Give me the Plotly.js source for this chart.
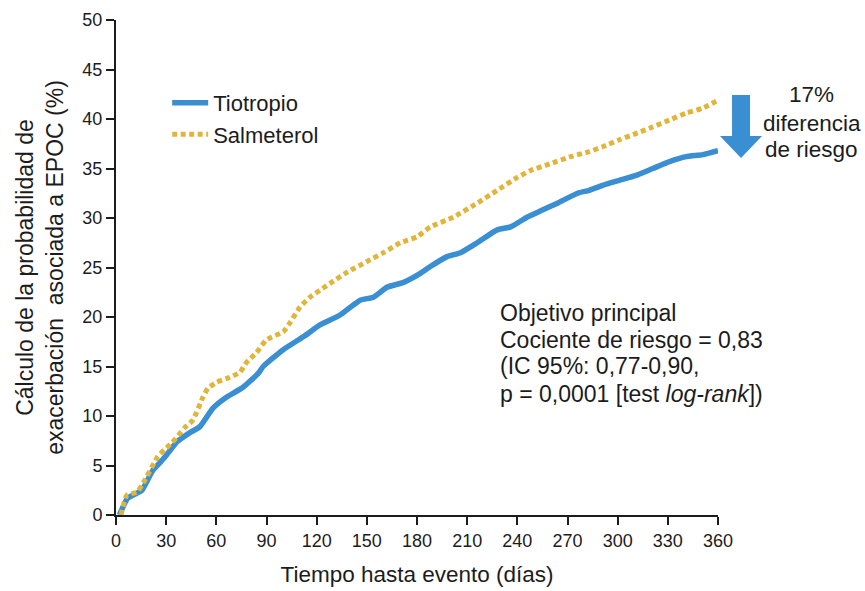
<!DOCTYPE html>
<html>
<head>
<meta charset="utf-8">
<script src="https://cdn.plot.ly/plotly-3.0.1.min.js"></script>
<style>html,body{margin:0;padding:0;background:#fff;}#chart{width:865px;height:591px;}</style>
</head>
<body>
<div id="chart"></div>
<script>
const tioDays = [2, 7, 12.5, 15.5, 22, 29, 36.5, 44, 50, 58, 66, 76, 85, 88, 100, 112, 122, 134, 146, 154, 162, 172, 182, 188, 198, 206, 216, 228, 236, 246, 255, 264, 276, 283, 291, 301, 311, 321, 331, 341, 351, 360];
const tioVals = [0, 1.7, 2.2, 2.5, 4.5, 5.8, 7.4, 8.3, 8.9, 10.8, 11.9, 12.9, 14.3, 15.0, 16.7, 18.0, 19.2, 20.2, 21.7, 22.0, 23.0, 23.5, 24.4, 25.1, 26.1, 26.5, 27.5, 28.8, 29.1, 30.1, 30.8, 31.5, 32.5, 32.8, 33.3, 33.8, 34.3, 35.0, 35.7, 36.2, 36.4, 36.8];

const salDays = [3, 6.5, 12.5, 15.5, 25, 29, 33.5, 41, 46, 52, 55, 60, 68, 74, 78, 84, 90, 100, 104, 110, 116, 122, 128, 138, 150, 160, 170, 180, 188, 202, 216, 228, 240, 248, 260, 272, 283, 291, 301, 312, 321, 331, 341, 351, 360];
const salVals = [0, 2.0, 2.3, 3.0, 5.9, 6.6, 7.3, 8.8, 9.6, 11.9, 12.8, 13.4, 13.9, 14.4, 15.4, 16.4, 17.7, 18.5, 19.4, 21.0, 22.0, 22.7, 23.4, 24.5, 25.6, 26.5, 27.5, 28.1, 29.1, 30.1, 31.5, 32.8, 34.1, 34.8, 35.5, 36.2, 36.7, 37.2, 37.9, 38.6, 39.2, 39.9, 40.6, 41.1, 41.9];

const seriesNames = ["Tiotropio", "Salmeterol"];
const xTicks = [0, 30, 60, 90, 120, 150, 180, 210, 240, 270, 300, 330, 360];
const yTicks = [0, 5, 10, 15, 20, 25, 30, 35, 40, 45, 50];
const riskLines = ["17%", "diferencia", "de riesgo"];
const statLines = ["Objetivo principal", "Cociente de riesgo = 0,83", "(IC 95%: 0,77-0,90,", "p = 0,0001 [test <i>log-rank</i>])"];

const BLUE = "#3a8ed2";
const GOLD = "#e1b53a";
const INK = "#1c1c1c";
const FONT = "Liberation Sans, Arial, sans-serif";

const traces = [
  {x: tioDays, y: tioVals, name: seriesNames[0], mode: "lines",
   line: {color: BLUE, width: 5.5, shape: "spline", smoothing: 0.5}},
  {x: salDays, y: salVals, name: seriesNames[1], mode: "lines",
   line: {color: GOLD, width: 5, dash: "5px,3.5px", shape: "spline", smoothing: 0.5}}
];

const riskY = [0.8485, 0.7919, 0.7374];
const statY = [0.408, 0.3535, 0.301, 0.2444];
const annotations = [];
riskLines.forEach((t, i) => annotations.push({xref: "paper", yref: "paper", x: 1.156, y: riskY[i],
  xanchor: "center", yanchor: "middle", text: t, showarrow: false, font: {size: 22.5, color: INK}}));
statLines.forEach((t, i) => annotations.push({xref: "paper", yref: "paper", x: 0.6346, y: statY[i],
  xanchor: "left", yanchor: "middle", text: t, showarrow: false, font: {size: 23, color: INK}}));

const layout = {
  width: 865, height: 591,
  margin: {l: 116, r: 147, t: 20, b: 76},
  paper_bgcolor: "#fff", plot_bgcolor: "#fff",
  font: {family: FONT, color: INK, size: 18},
  showlegend: true,
  legend: {x: 0.085, y: 0.875, xanchor: "left", yanchor: "top", itemwidth: 36,
    tracegroupgap: 0,
    bgcolor: "rgba(0,0,0,0)", font: {size: 22, color: INK}},
  xaxis: {range: [0, 360], tickvals: xTicks, ticktext: xTicks.map(String),
    showgrid: false, zeroline: false, showline: true, linecolor: INK, linewidth: 2,
    ticks: "outside", ticklen: 8, tickwidth: 2, tickcolor: INK,
    tickfont: {size: 18, color: INK},
    title: {text: "Tiempo hasta evento (días)", font: {size: 22.5, color: INK}, standoff: 17}},
  yaxis: {range: [0, 50], tickvals: yTicks, ticktext: yTicks.map(String),
    showgrid: false, zeroline: false, showline: true, linecolor: INK, linewidth: 2,
    ticks: "outside", ticklen: 8, tickwidth: 2, tickcolor: INK,
    tickfont: {size: 18, color: INK},
    title: {text: "Cálculo de la probabilidad de<br>exacerbación  asociada a EPOC (%)", font: {size: 23, color: INK}, standoff: 12}},
  shapes: [
    {type: "path", xref: "paper", yref: "paper",
     path: "M 1.0233 0.8485 L 1.0532 0.8485 L 1.0532 0.7657 L 1.0731 0.7657 L 1.0382 0.7212 L 1.0033 0.7657 L 1.0233 0.7657 Z",
     fillcolor: BLUE, line: {width: 0}}
  ],
  annotations: annotations
};

Plotly.newPlot("chart", traces, layout, {displayModeBar: false, staticPlot: true});
</script>
</body>
</html>
